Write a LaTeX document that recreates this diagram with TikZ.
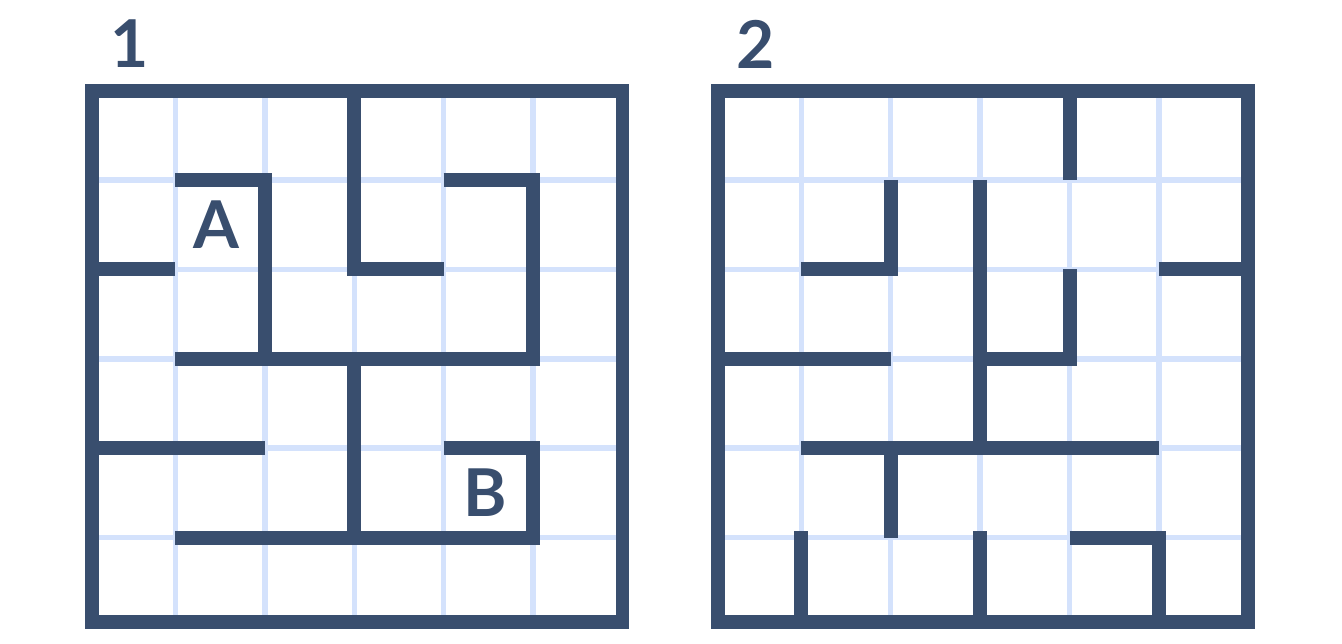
\documentclass[tikz,border=0pt]{standalone}
\usepackage{fontspec}
\setmainfont{Lato}
\usetikzlibrary{positioning}
\definecolor{mazeblue}{HTML}{394E6E}
\definecolor{gridblue}{HTML}{D4E2FC}

\begin{document}
\begin{tikzpicture}[
      x=1cm, y=-1cm,
      wall/.style={draw=mazeblue, line width=4.45pt},
      gridline/.style={draw=gridblue, line width=1.75pt},
      tag/.style={text=mazeblue, inner sep=0pt,
        font=\fontsize{21}{21}\selectfont\bfseries}
    ]
      \useasboundingbox (-0.963,-1.013) rectangle (14.048,6.19);
      % maze 1
      \begin{scope}
        \foreach \k in {1,...,5} {
          \draw[gridline] (\k,0) -- (\k,6);
          \draw[gridline] (0,\k) -- (6,\k);
        }
        \draw[wall] (0.066,0) rectangle (6,5.944);
        \draw[wall] (3,0) -- (3,2) -- (4,2);
        \draw[wall] (1,1) -- (2,1) -- (2,3);
        \draw[wall] (0,2) -- (1,2);
        \draw[wall] (4,1) -- (5,1) -- (5,3) -- (1,3);
        \draw[wall] (3,3) -- (3,5);
        \draw[wall] (0,4) -- (2,4);
        \draw[wall] (4,4) -- (5,4) -- (5,5) -- (1,5);
        \node[tag] (mazeone) at (0.49,-0.52) {1};
        \node[tag] (pointa) at (1.46,1.50) {A};
        \node[tag] (pointb) at (4.47,4.50) {B};
      \end{scope}
      % maze 2
      \begin{scope}[xshift=7cm]
        \foreach \k in {1,...,5} {
          \draw[gridline] (\k,0) -- (\k,6);
          \draw[gridline] (0,\k) -- (6,\k);
        }
        \draw[wall] (0.066,0) rectangle (6,5.944);
        \draw[wall] (4,0) -- (4,1);
        \draw[wall] (2,1) -- (2,2) -- (1,2);
        \draw[wall] (3,1) -- (3,4);
        \draw[wall] (4,2) -- (4,3) -- (3,3);
        \draw[wall] (5,2) -- (6,2);
        \draw[wall] (0,3) -- (2,3);
        \draw[wall] (1,4) -- (5,4);
        \draw[wall] (2,4) -- (2,5);
        \draw[wall] (1,4.93) -- (1,6);
        \draw[wall] (3,4.93) -- (3,6);
        \draw[wall] (4,5) -- (5,5) -- (5,6);
        \node[tag] (mazetwo) at (0.49,-0.52) {2};
      \end{scope}
    \end{tikzpicture}
\end{document}
